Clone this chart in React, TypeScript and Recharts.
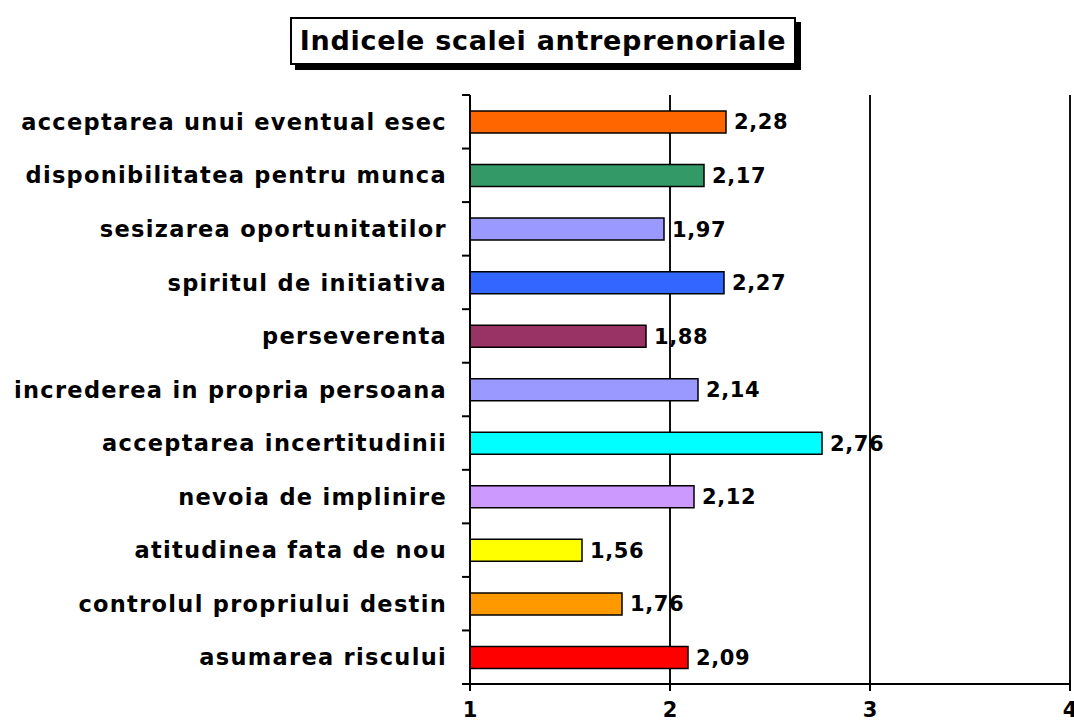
import React from "react";
import { BarChart, Bar, XAxis, YAxis, CartesianGrid, Cell, LabelList } from "recharts";

const categories = [
  "acceptarea unui eventual esec",
  "disponibilitatea pentru munca",
  "sesizarea oportunitatilor",
  "spiritul de initiativa",
  "perseverenta",
  "increderea in propria persoana",
  "acceptarea incertitudinii",
  "nevoia de implinire",
  "atitudinea fata de nou",
  "controlul propriului destin",
  "asumarea riscului",
];
const values = [2.28, 2.17, 1.97, 2.27, 1.88, 2.14, 2.76, 2.12, 1.56, 1.76, 2.09];
const colors = [
  "#FF6600",
  "#339966",
  "#9999FF",
  "#3366FF",
  "#993366",
  "#9999FF",
  "#00FFFF",
  "#CC99FF",
  "#FFFF00",
  "#FF9900",
  "#FF0000",
];
const xTicks = [1, 2, 3, 4];
const title = "Indicele scalei antreprenoriale";

const data = categories.map((name, i) => ({ name, value: values[i], color: colors[i] }));

const FONT = "'DejaVu Sans', Verdana, sans-serif";
const W = 1074;
const H = 722;
const M = { top: 95, right: 4, bottom: 8, left: 0 };
const Y_W = 470;
const X_H = 30;
const plotH = H - M.top - M.bottom - X_H;
const half = plotH / categories.length / 2;

const YTick = (props: any) => {
  const { x, y, payload, index } = props;
  const last = index === categories.length - 1;
  return (
    <g>
      <line x1={x - 8} x2={x} y1={y - half} y2={y - half} stroke="#000" strokeWidth={2} />
      {last && <line x1={x - 8} x2={x} y1={y + half} y2={y + half} stroke="#000" strokeWidth={2} />}
      <text
        x={x - 23}
        y={y}
        dy="0.36em"
        textAnchor="end"
        fontFamily={FONT}
        fontWeight="bold"
        fontSize={22.5}
        letterSpacing={1.3}
        fill="#000"
      >
        {payload.value}
      </text>
    </g>
  );
};

const XTick = (props: any) => {
  const { x, y, payload } = props;
  return (
    <g>
      <line x1={x} x2={x} y1={y - 4} y2={y + 7} stroke="#000" strokeWidth={2} />
      <text
        x={x}
        y={y + 33}
        textAnchor="middle"
        fontFamily={FONT}
        fontWeight="bold"
        fontSize={21}
        fill="#000"
      >
        {payload.value}
      </text>
    </g>
  );
};

const fmt = (v: any) => Number(v).toFixed(2).replace(".", ",");

export default function App() {
  return (
    <div style={{ position: "absolute", left: 0, top: 0, width: W, height: H, background: "#fff", overflow: "hidden" }}>
      <BarChart width={W} height={H} data={data} layout="vertical" margin={M} barCategoryGap={0} style={{ overflow: "visible" }}>
        <CartesianGrid horizontal={false} vertical={true} stroke="#111" strokeWidth={2} />
        <XAxis
          type="number"
          domain={[1, 4]}
          ticks={xTicks}
          allowDataOverflow
          height={X_H}
          axisLine={{ stroke: "#000", strokeWidth: 2 }}
          tickLine={false}
          tickSize={0}
          tickMargin={0}
          tick={<XTick />}
        />
        <YAxis
          type="category"
          dataKey="name"
          width={Y_W}
          interval={0}
          tickLine={false}
          tickSize={0}
          tickMargin={0}
          axisLine={{ stroke: "#000", strokeWidth: 2 }}
          tick={<YTick />}
        />
        <Bar dataKey="value" barSize={22} stroke="#000" strokeWidth={1.5} isAnimationActive={false}>
          {data.map((d, i) => (
            <Cell key={i} fill={d.color} />
          ))}
          <LabelList
            dataKey="value"
            position="right"
            offset={8}
            formatter={fmt}
            fill="#000"
            fontFamily={FONT}
            fontWeight="bold"
            fontSize={21}
            letterSpacing={0.6}
          />
        </Bar>
      </BarChart>
      <div
        style={{
          position: "absolute",
          left: 290,
          top: 17,
          width: 506,
          height: 48,
          boxSizing: "border-box",
          border: "2px solid #000",
          boxShadow: "5px 5px 0 #000",
          background: "#fff",
          fontFamily: FONT,
          fontWeight: "bold",
          fontSize: 27,
          letterSpacing: 0.7,
          lineHeight: "44px",
          textAlign: "center",
          color: "#000",
          whiteSpace: "nowrap",
        }}
      >
        {title}
      </div>
    </div>
  );
}
